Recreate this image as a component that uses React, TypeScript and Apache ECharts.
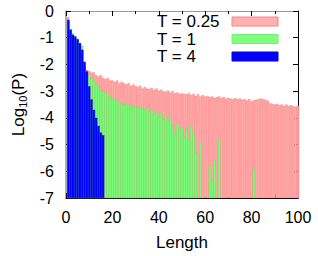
import React, { useEffect, useRef } from "react";
import * as echarts from "echarts";

// Lengths 1..100
const lengths: number[] = Array.from({ length: 100 }, (_, i) => i + 1);

// log10(P) for T = 0.25 (pink), lengths 1..100
const pinkValues: number[] = [
  -0.23, -0.75, -0.95, -1.1, -1.2, -1.35, -1.55, -2.0, -2.2, -2.25,
  -2.3, -2.3, -2.4, -2.45, -2.4, -2.5, -2.55, -2.5, -2.6, -2.6,
  -2.65, -2.6, -2.7, -2.65, -2.7, -2.75, -2.7, -2.8, -2.75, -2.8,
  -2.85, -2.8, -2.9, -2.85, -2.9, -2.92, -2.88, -2.95, -2.9, -2.98,
  -2.95, -3.0, -3.02, -2.98, -3.05, -3.0, -3.08, -3.05, -3.1, -3.08,
  -3.1, -3.12, -3.08, -3.15, -3.1, -3.18, -3.12, -3.2, -3.15, -3.2,
  -3.18, -3.22, -3.2, -3.25, -3.22, -3.2, -3.25, -3.22, -3.28, -3.25,
  -3.28, -3.3, -3.26, -3.3, -3.28, -3.32, -3.3, -3.35, -3.3, -3.38,
  -3.34, -3.32, -3.3, -3.28, -3.3, -3.32, -3.36, -3.45, -3.48, -3.5,
  -3.48, -3.52, -3.5, -3.55, -3.5, -3.55, -3.52, -3.56, -3.58, -3.55,
];

// log10(P) for T = 1 (green); null = no bar
const greenValues: (number | null)[] = [
  -0.4, -0.66, -0.84, -0.98, -1.08, -1.22, -1.3, -1.95, -2.3, -2.38,
  -2.5, -2.6, -2.72, -2.85, -2.95, -3.0, -3.05, -3.1, -3.2, -3.25,
  -3.3, -3.35, -3.4, -3.45, -3.5, -3.48, -3.55, -3.5, -3.58, -3.55,
  -3.6, -3.58, -3.65, -3.7, -3.62, -3.75, -3.7, -3.85, -3.78, -3.95,
  -3.8, -4.05, -3.9, -4.1, -4.0, -4.3, -4.6, -4.2, -4.4, -4.35,
  -4.75, -4.4, -4.85, -4.3, -4.6, -5.3, null, -4.9, null, null,
  null, -5.8, -6.35, -5.6, null, -4.8, null, null, null, null,
  null, null, null, null, null, null, null, null, null, null,
  -5.9, null, null, null, null, null, null, null, null, null,
  null, null, null, null, null, null, null, null, null, null,
];

// log10(P) for T = 4 (blue), lengths 1..16
const blueValues: number[] = [
  -0.33, -0.7, -0.89, -0.95, -1.05, -1.2, -1.45, -1.9, -2.26, -2.82,
  -3.31, -3.7, -4.0, -4.3, -4.55, -4.65,
];

const yTickValues: number[] = [-7, -6, -5, -4, -3, -2, -1, 0];
const xTickLabels: number[] = [0, 20, 40, 60, 80, 100];

const seriesNames = ["T = 0.25", "T = 1", "T = 4"];

const Y_MIN = -7;
const FONT = "'Liberation Sans', Arial, Helvetica, sans-serif";

function toData(values: (number | null)[]) {
  const out: any[] = [];
  values.forEach((v, i) => {
    if (v !== null && v !== undefined) out.push([lengths[i], v - Y_MIN]);
  });
  return out;
}

export default function App() {
  const ref = useRef<HTMLDivElement>(null);
  useEffect(() => {
    if (!ref.current) return;
    const chart = echarts.init(ref.current, undefined, { renderer: "svg" });
    const barW = 232 / 100;
    const axisCommon = {
      type: "value" as const,
      min: 0,
      max: 100,
      interval: 20,
      splitLine: { show: false },
    };
    const option: any = {
      animation: false,
      backgroundColor: "#fff",
      grid: { left: 66, right: 20, top: 11, bottom: 57, containLabel: false },
      xAxis: [
        {
          ...axisCommon,
          position: "bottom",
          axisLine: { show: true, onZero: false, lineStyle: { color: "#000", width: 1 } },
          axisTick: { show: true, inside: true, length: 5, lineStyle: { color: "#000" } },
          minorTick: { show: true, splitNumber: 2, length: 3, lineStyle: { color: "#000" } },
          axisLabel: {
            fontSize: 16,
            color: "#000",
            fontFamily: FONT,
            margin: 11,
            formatter: (v: number) => (xTickLabels.includes(v) ? String(v) : ""),
          },
          name: "Length",
          nameLocation: "middle",
          nameGap: 36,
          nameTextStyle: { fontSize: 17, color: "#000", fontFamily: FONT },
        },
        {
          ...axisCommon,
          position: "top",
          axisLine: { show: true, onZero: false, lineStyle: { color: "#999", width: 1 } },
          axisTick: { show: true, inside: true, length: 5, lineStyle: { color: "#000" } },
          minorTick: { show: true, splitNumber: 2, length: 3, lineStyle: { color: "#000" } },
          axisLabel: { show: false },
        },
      ],
      yAxis: [
        {
          type: "value",
          min: 0,
          max: 7,
          interval: 1,
          position: "left",
          splitLine: { show: false },
          axisLine: { show: true, onZero: false, lineStyle: { color: "#999", width: 1.5 } },
          axisTick: { show: true, inside: true, length: 5, lineStyle: { color: "#000" } },
          axisLabel: {
            fontSize: 16,
            color: "#000",
            fontFamily: FONT,
            margin: 12,
            formatter: (v: number) => {
              const t = Math.round(v + Y_MIN);
              return yTickValues.includes(t) ? String(t) : "";
            },
          },
          name: "{a|Log}{b|10}{a|(P)}",
          nameLocation: "middle",
          nameRotate: 90,
          nameGap: 38,
          nameTextStyle: {
            rich: {
              a: { fontSize: 17, color: "#000", fontFamily: FONT, lineHeight: 20 },
              b: { fontSize: 11, color: "#000", fontFamily: FONT, verticalAlign: "bottom", lineHeight: 8 },
            },
          },
        },
        {
          type: "value",
          min: 0,
          max: 7,
          interval: 1,
          position: "right",
          splitLine: { show: false },
          axisLine: { show: true, onZero: false, lineStyle: { color: "#000", width: 1 } },
          axisTick: { show: true, inside: true, length: 5, lineStyle: { color: "#000" } },
          axisLabel: { show: false },
        },
      ],
      series: [
        {
          name: seriesNames[0],
          type: "bar",
          xAxisIndex: 0,
          yAxisIndex: 0,
          barWidth: barW,
          barGap: "-100%",
          data: toData(pinkValues),
          itemStyle: { color: "#ffb2b2", borderColor: "#ff7070", borderWidth: 0.5 },
          clip: true,
        },
        {
          name: seriesNames[1],
          type: "bar",
          xAxisIndex: 0,
          yAxisIndex: 0,
          barWidth: barW,
          barGap: "-100%",
          data: toData(greenValues),
          itemStyle: { color: "#80ff80", borderColor: "#58ec58", borderWidth: 0.5 },
          clip: true,
        },
        {
          name: seriesNames[2],
          type: "bar",
          xAxisIndex: 0,
          yAxisIndex: 0,
          barWidth: barW,
          barGap: "-100%",
          data: toData(blueValues),
          itemStyle: { color: "#0000ff", borderColor: "#0000ee", borderWidth: 0.3 },
          clip: true,
        },
      ],
      graphic: [
        { type: "text", x: 157, y: 21.7, style: { text: seriesNames[0], fontSize: 17, fontFamily: FONT, fill: "#000", verticalAlign: "middle" } },
        { type: "text", x: 157, y: 39, style: { text: seriesNames[1], fontSize: 17, fontFamily: FONT, fill: "#000", verticalAlign: "middle" } },
        { type: "text", x: 157, y: 56.7, style: { text: seriesNames[2], fontSize: 17, fontFamily: FONT, fill: "#000", verticalAlign: "middle" } },
        { type: "rect", shape: { x: 232, y: 17, width: 46, height: 9 }, style: { fill: "#ffb2b2", stroke: "#ff8080", lineWidth: 1 } },
        { type: "rect", shape: { x: 232, y: 34.5, width: 46, height: 9 }, style: { fill: "#80ff80", stroke: "#70f070", lineWidth: 1 } },
        { type: "rect", shape: { x: 232, y: 52, width: 46, height: 9 }, style: { fill: "#0000ff", stroke: "#0000e0", lineWidth: 1 } },
      ],
    };
    chart.setOption(option);
    return () => chart.dispose();
  }, []);
  return <div ref={ref} style={{ width: 318, height: 256, position: "absolute", left: 0, top: 0 }} />;
}
